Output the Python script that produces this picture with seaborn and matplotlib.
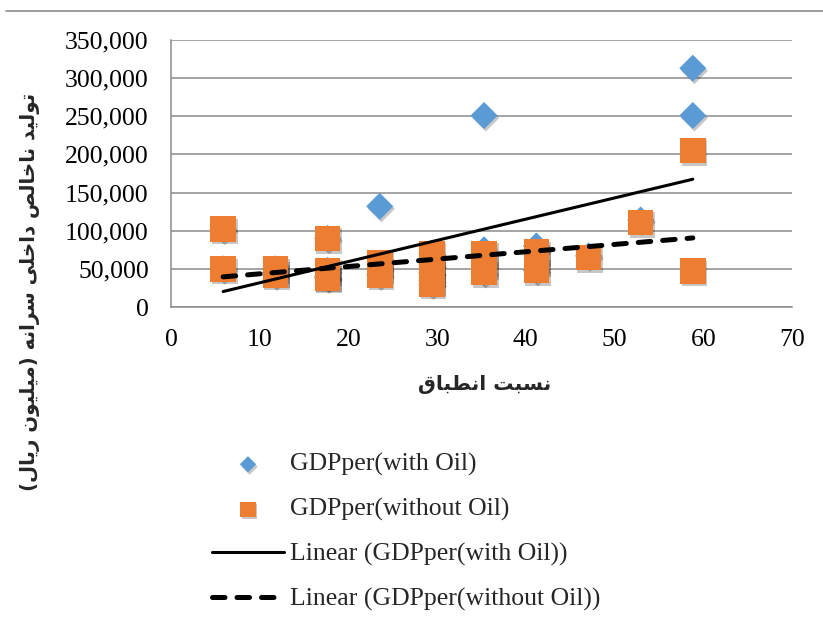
import matplotlib
matplotlib.use("Agg")
import matplotlib.pyplot as plt
import matplotlib.patheffects as pe
from matplotlib.lines import Line2D
from matplotlib.ticker import FuncFormatter
import seaborn as sns
import pandas as pd

# ---------------------------------------
# Data
# ---------------------------------------

ratio = [5.88, 5.88,
         11.76, 11.76, 11.76,
         17.65, 17.65, 17.65, 17.65,
         23.53, 23.53, 23.53,
         29.41, 29.41, 29.41, 29.41, 29.41,
         35.29, 35.29, 35.29,
         41.18, 41.18, 41.18,
         47.06,
         52.94,
         58.82, 58.82]

gdp_without_oil = [102000, 50000,
                   50000, 45000, 42000,
                   90000, 48000, 40000, 38000,
                   58000, 50000, 42000,
                   70000, 55000, 45000, 35000, 30000,
                   70000, 55000, 45000,
                   72000, 60000, 48000,
                   65000,
                   111000,
                   205000, 47000]

gdp_with_oil = [102000, 50000,
                50000, 45000, 42000,
                90000, 48000, 40000, 38000,
                132000, 50000, 42000,
                70000, 55000, 45000, 35000, 30000,
                251000, 75000, 45000,
                80000, 74000, 48000,
                67000,
                114000,
                313000, 251000]

x_label = "نسبت انطباق"
y_label = "تولید ناخالص داخلی سرانه (میلیون ریال)"

df = pd.DataFrame({"ratio": ratio, "with_oil": gdp_with_oil, "without_oil": gdp_without_oil})

# ---------------------------------------
# Simple Persian shaping (matplotlib has no complex text layout)
# ---------------------------------------

FORMS = {
    "ا": (0xFE8D, 0xFE8E, None, None),
    "ب": (0xFE8F, 0xFE90, 0xFE91, 0xFE92),
    "ت": (0xFE95, 0xFE96, 0xFE97, 0xFE98),
    "خ": (0xFEA5, 0xFEA6, 0xFEA7, 0xFEA8),
    "د": (0xFEA9, 0xFEAA, None, None),
    "ر": (0xFEAD, 0xFEAE, None, None),
    "س": (0xFEB1, 0xFEB2, 0xFEB3, 0xFEB4),
    "ص": (0xFEB9, 0xFEBA, 0xFEBB, 0xFEBC),
    "ط": (0xFEC1, 0xFEC2, 0xFEC3, 0xFEC4),
    "ق": (0xFED5, 0xFED6, 0xFED7, 0xFED8),
    "ل": (0xFEDD, 0xFEDE, 0xFEDF, 0xFEE0),
    "م": (0xFEE1, 0xFEE2, 0xFEE3, 0xFEE4),
    "ن": (0xFEE5, 0xFEE6, 0xFEE7, 0xFEE8),
    "ه": (0xFEE9, 0xFEEA, 0xFEEB, 0xFEEC),
    "و": (0xFEED, 0xFEEE, None, None),
    "\u06cc": (0xFEEF, 0xFEF0, 0xFEF3, 0xFEF4),
    "\u064a": (0xFEEF, 0xFEF0, 0xFEF3, 0xFEF4),
}


def shape_fa(text):
    out = []
    for i, ch in enumerate(text):
        if ch not in FORMS:
            out.append(ch)
            continue
        prev = text[i - 1] if i > 0 else ""
        nxt = text[i + 1] if i + 1 < len(text) else ""
        join_prev = prev in FORMS and FORMS[prev][2] is not None
        join_next = FORMS[ch][2] is not None and nxt in FORMS
        iso, fin, ini, med = FORMS[ch]
        if join_prev and join_next:
            cp = med
        elif join_prev:
            cp = fin
        elif join_next:
            cp = ini
        else:
            cp = iso
        out.append(chr(cp))
    swap = {"(": ")", ")": "("}
    return "".join(swap.get(c, c) for c in reversed(out))


# ---------------------------------------
# Plot
# ---------------------------------------

sns.set_style("white")
plt.rcParams["font.family"] = ["Liberation Serif", "DejaVu Sans"]

blue = "#5B9BD5"
orange = "#ED7D31"
grid_gray = "#8C8C8C"

fig = plt.figure(figsize=(8.23, 6.26), dpi=100)
ax = fig.add_axes([171 / 823, 1 - 307 / 626, 621 / 823, 267 / 626])

shadow = [pe.SimplePatchShadow(offset=(1.2, -1.8), shadow_rgbFace="black", alpha=0.22), pe.Normal()]

sns.scatterplot(data=df, x="ratio", y="with_oil", marker="D", s=190, color=blue,
                edgecolor="none", ax=ax, label="GDPper(with Oil)", zorder=3)
sns.scatterplot(data=df, x="ratio", y="without_oil", marker="s", s=340, color=orange,
                edgecolor="none", ax=ax, label="GDPper(without Oil)", zorder=4)
for coll in ax.collections:
    coll.set_path_effects(shadow)

sns.regplot(data=df, x="ratio", y="with_oil", scatter=False, ci=None, ax=ax,
            label="Linear (GDPper(with Oil))",
            line_kws={"color": "black", "lw": 2.2, "zorder": 5})
sns.regplot(data=df, x="ratio", y="without_oil", scatter=False, ci=None, ax=ax,
            label="Linear (GDPper(without Oil))",
            line_kws={"color": "black", "lw": 3.6, "dashes": (2.5, 2.4),
                      "dash_capstyle": "round", "zorder": 5})

ax.set_xlim(0, 70)
ax.set_ylim(0, 350000)
ax.set_xticks(range(0, 71, 10))
ax.set_yticks(range(0, 350001, 50000))
ax.yaxis.set_major_formatter(FuncFormatter(lambda v, p: f"{int(v):,}"))
ax.set_xlabel("")
ax.set_ylabel("")

ax.grid(axis="y", color=grid_gray, lw=1.1)
ax.grid(axis="x", visible=False)
ax.set_axisbelow(True)
for side in ["top", "right"]:
    ax.spines[side].set_visible(False)
for side in ["left", "bottom"]:
    ax.spines[side].set_color(grid_gray)
    ax.spines[side].set_linewidth(1.1)
ax.tick_params(axis="both", direction="out", length=5, width=1.1, color=grid_gray,
               labelsize=18.5, labelcolor="black")
ax.tick_params(axis="y", pad=11)
ax.tick_params(axis="x", pad=11)
ax.get_legend().remove()

fig.text(485 / 823, 1 - 385 / 626, shape_fa(x_label), ha="center", va="center",
         fontsize=14.5, fontweight="bold", family="DejaVu Sans")
fig.text(30 / 823, 1 - 292 / 626, shape_fa(y_label), ha="center", va="center",
         rotation=90, fontsize=14.2, fontweight="bold", family="DejaVu Sans")

handles, labels = ax.get_legend_handles_labels()
fig.legend(handles, labels, loc="upper left", bbox_to_anchor=(212 / 823, 1 - 453 / 626),
           frameon=False, fontsize=18.5, markerscale=0.6, handlelength=2.8,
           handletextpad=0.25, labelspacing=0.84, borderpad=0, borderaxespad=0)

# thin rule across the top of the picture
fig.add_artist(Line2D([6 / 823, 1], [1 - 11 / 626, 1 - 11 / 626], color=grid_gray,
                      lw=1.2, transform=fig.transFigure))

fig.savefig("out.png", dpi=100)
